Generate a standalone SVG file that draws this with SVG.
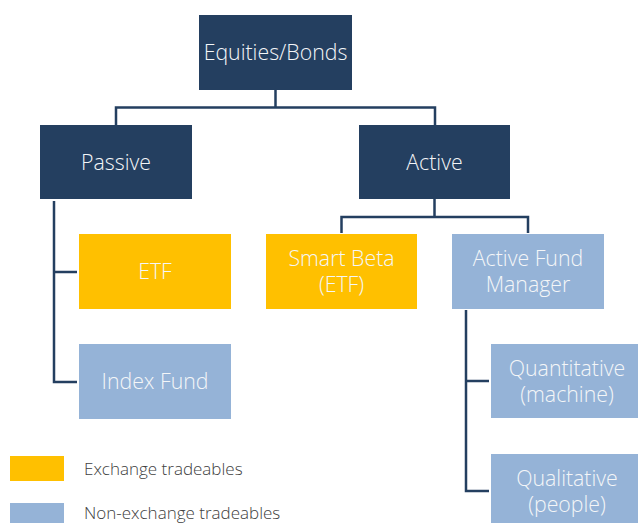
<svg xmlns="http://www.w3.org/2000/svg" width="638" height="523" viewBox="0 0 638 523">
<style>
.dark{fill:#243f60}
.gold{fill:#ffc000}
.blue{fill:#95b3d7}
.t{font-family:"Open Sans","Liberation Sans",sans-serif;font-weight:300;font-size:21.3px;fill:#f4f6f8;text-anchor:middle}
.lg{font-family:"Open Sans","Liberation Sans",sans-serif;font-weight:300;font-size:17px;fill:#404040}
.c{fill:none;stroke:#243f60;stroke-width:2.5}
</style>
<rect width="638" height="523" fill="#ffffff"/>
<g id="connectors">
<path class="c" d="M275.5 90V107.5M116 125V107.5H435V125"/>
<path class="c" d="M434.5 199V217M341.5 233V217H528V233"/>
<path class="c" d="M54 201V382H77M54 272H77"/>
<path class="c" d="M466 310V491H489M466 381H489"/>
</g>
<g id="equities"><rect class="dark" x="199" y="15" width="153" height="75"/><text class="t" x="275.5" y="60">Equities/Bonds</text></g>
<g id="passive"><rect class="dark" x="40" y="125" width="152" height="74"/><text class="t" x="116" y="169.5">Passive</text></g>
<g id="active"><rect class="dark" x="359" y="125" width="151" height="74"/><text class="t" x="434.5" y="169.5">Active</text></g>
<g id="etf"><rect class="gold" x="79" y="234" width="152" height="75"/><text class="t" x="155" y="279">ETF</text></g>
<g id="index-fund"><rect class="blue" x="79" y="344" width="152" height="75"/><text class="t" x="155" y="388.5">Index Fund</text></g>
<g id="smart-beta"><rect class="gold" x="266" y="234" width="151" height="75"/><text class="t" x="341.5" y="265.5">Smart Beta</text><text class="t" x="341.5" y="292">(ETF)</text></g>
<g id="active-fund-manager"><rect class="blue" x="452" y="234" width="152" height="75"/><text class="t" x="528" y="265.5">Active Fund</text><text class="t" x="528" y="292">Manager</text></g>
<g id="quantitative"><rect class="blue" x="491" y="344" width="152" height="74"/><text class="t" x="567" y="375.5">Quantitative</text><text class="t" x="567" y="402">(machine)</text></g>
<g id="qualitative"><rect class="blue" x="491" y="454" width="152" height="75"/><text class="t" x="567" y="485.5">Qualitative</text><text class="t" x="567" y="512">(people)</text></g>
<g id="legend">
<rect class="gold" x="10" y="456" width="54" height="25"/>
<text class="lg" x="84" y="475">Exchange tradeables</text>
<rect class="blue" x="10" y="503" width="54" height="25"/>
<text class="lg" x="84" y="519">Non-exchange tradeables</text>
</g>
</svg>
